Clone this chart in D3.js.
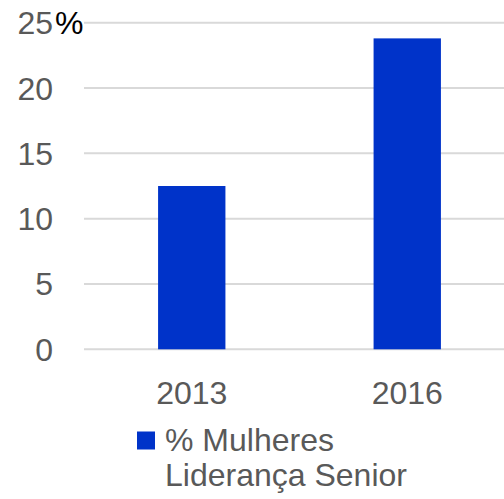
<!DOCTYPE html>
<html>
<head>
<meta charset="utf-8">
<script src="https://d3js.org/d3.v7.min.js"></script>
<style>
    body { margin: 0; background: #fff; }
    .tick-label { fill: #595959; font-family: "Liberation Sans", Arial, sans-serif; font-size: 32px; }
    .grid line { stroke: #d9d9d9; stroke-width: 2px; }
</style>
</head>
<body>
<svg id="chart" width="504" height="499"></svg>
<script>
    // data
    const years = ["2013", "2016"];
    const values = [12.5, 23.8];
    const yTicks = [0, 5, 10, 15, 20, 25];
    const seriesName = ["% Mulheres", "Liderança Senior"];

    const svg = d3.select("#chart");
    const barColor = "#0033c9";

    const x = d3.scaleBand()
        .domain(years)
        .range([84, 515])
        .paddingInner(0.6875)
        .paddingOuter(0.34375);

    const y = d3.scaleLinear()
        .domain([0, 25])
        .range([349.3, 22.7]);

    // gridlines
    svg.append("g").attr("class", "grid")
        .selectAll("line").data(yTicks)
        .join("line")
        .attr("x1", 84).attr("x2", 504)
        .attr("y1", d => y(d)).attr("y2", d => y(d));

    // y labels
    svg.append("g").selectAll("text").data(yTicks)
        .join("text")
        .attr("class", "tick-label")
        .attr("x", 53)
        .attr("y", d => y(d) + 11.5)
        .attr("text-anchor", "end")
        .text(d => d);

    // percent sign after the top label
    svg.append("text")
        .attr("class", "tick-label")
        .attr("x", 55)
        .attr("y", y(25) + 11.5)
        .style("fill", "#000")
        .text("%");

    // bars
    svg.selectAll("rect.bar").data(values)
        .join("rect")
        .attr("class", "bar")
        .attr("x", (d, i) => x(years[i]))
        .attr("width", x.bandwidth())
        .attr("y", d => y(d))
        .attr("height", d => y(0) - y(d))
        .attr("fill", barColor);

    // x labels
    svg.selectAll("text.xl").data(years)
        .join("text")
        .attr("class", "tick-label xl")
        .attr("x", d => x(d) + x.bandwidth() / 2)
        .attr("y", 404)
        .attr("text-anchor", "middle")
        .text(d => d);

    // legend
    svg.append("rect")
        .attr("x", 137).attr("y", 431.5)
        .attr("width", 18).attr("height", 18)
        .attr("fill", barColor);

    svg.selectAll("text.lg").data(seriesName)
        .join("text")
        .attr("class", "tick-label lg")
        .attr("x", 165)
        .attr("y", (d, i) => 451 + i * 34.7)
        .text(d => d);
</script>
</body>
</html>
